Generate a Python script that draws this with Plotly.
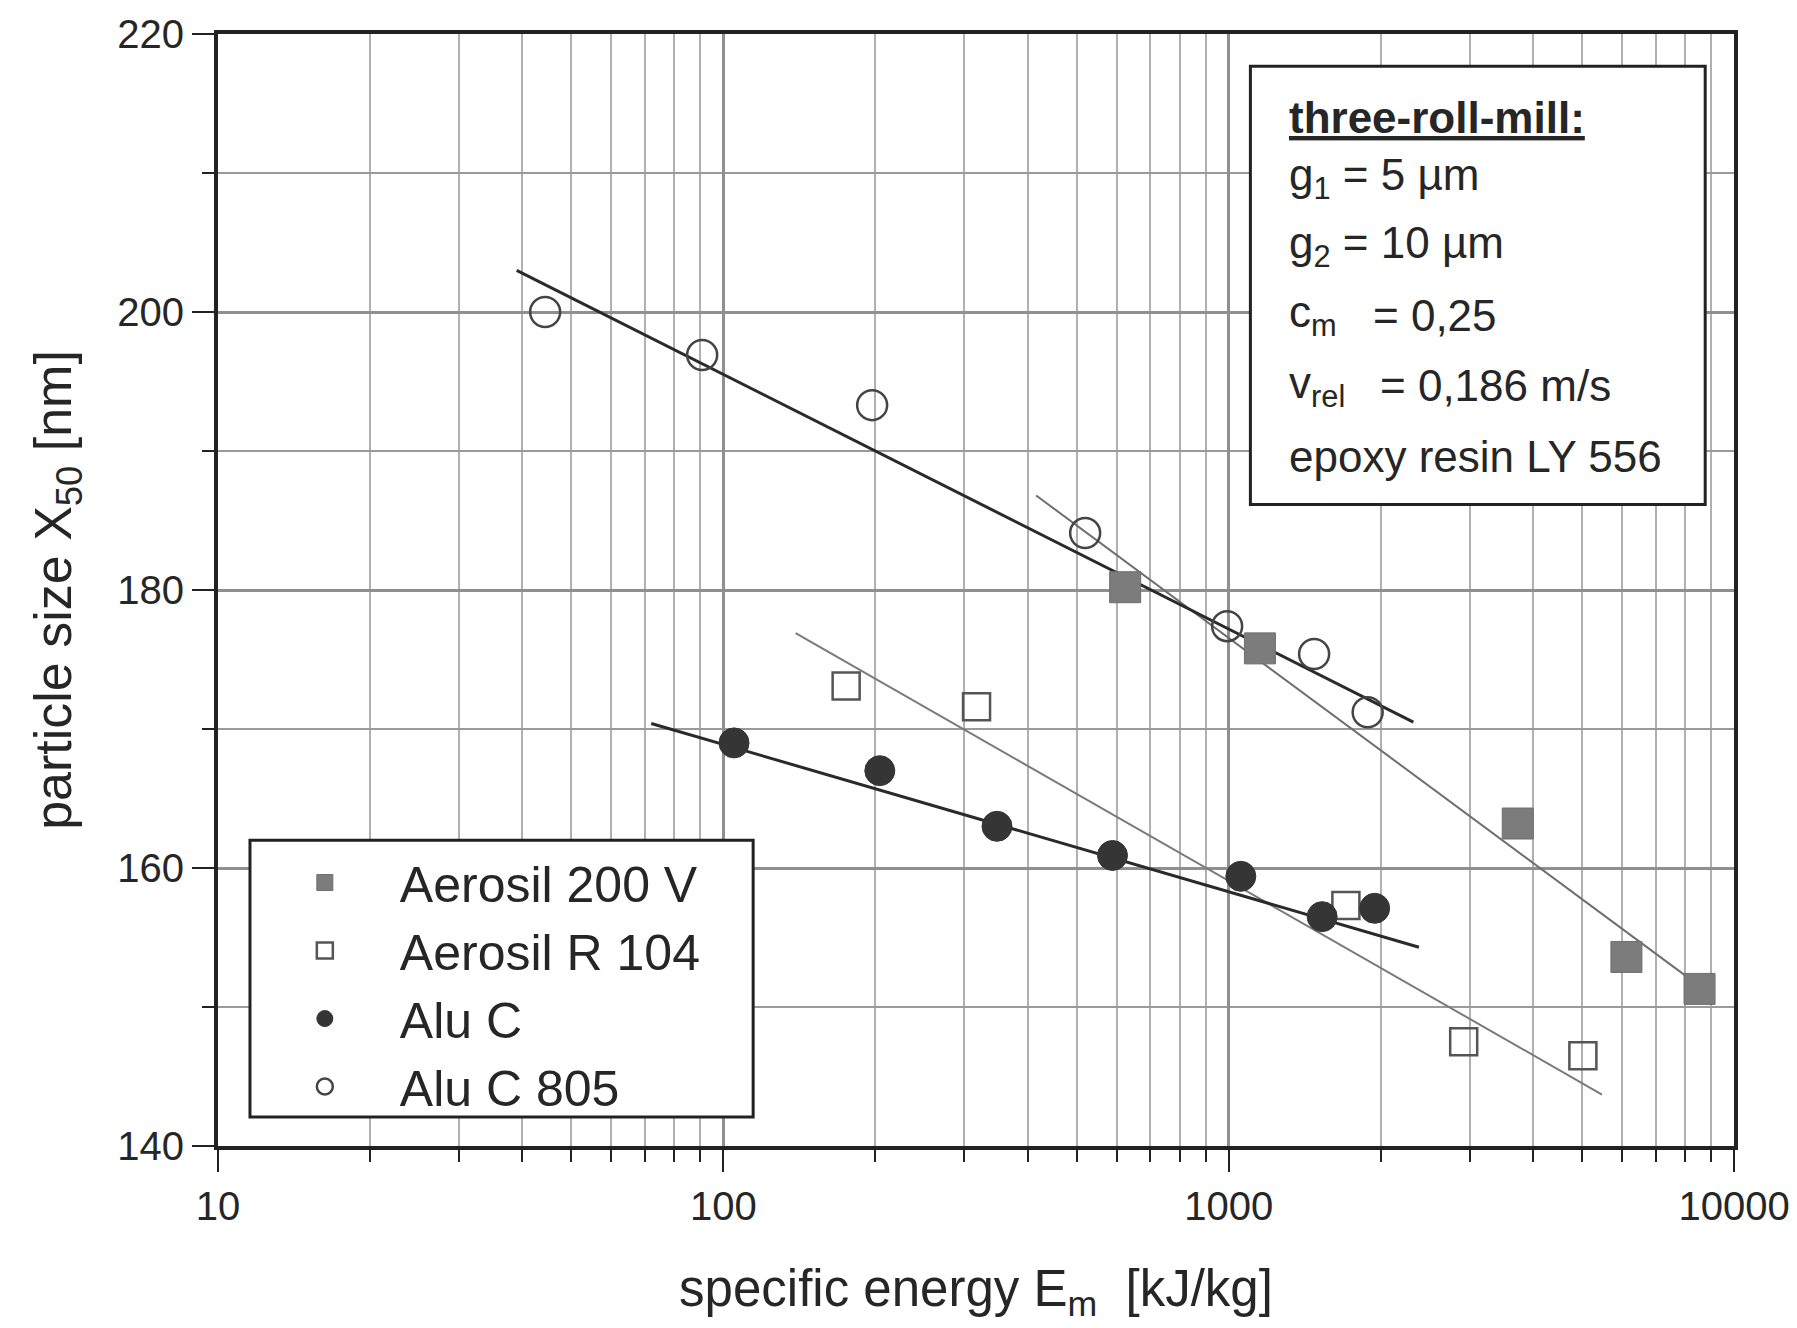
import plotly.graph_objects as go

# ---- data ----
a200v_x = [624, 1153, 3733, 6125, 8547]
a200v_y = [180.2, 175.8, 163.2, 153.6, 151.3]

r104_x = [175, 317, 1706, 2918, 5023]
r104_y = [173.1, 171.6, 157.3, 147.5, 146.5]

aluc_x = [105, 204, 348, 589, 1057, 1531, 1945]
aluc_y = [169.0, 167.0, 163.0, 160.9, 159.4, 156.5, 157.1]

c805_x = [44.4, 90.8, 197, 520, 993, 1476, 1884]
c805_y = [200.0, 196.9, 193.3, 184.1, 177.4, 175.4, 171.2]

# trend lines (end points)
fit_a200v_x = [416, 8550]
fit_a200v_y = [186.8, 151.5]
fit_r104_x = [139, 5480]
fit_r104_y = [176.9, 143.7]
fit_aluc_x = [72, 2380]
fit_aluc_y = [170.4, 154.3]
fit_c805_x = [39, 2320]
fit_c805_y = [203.0, 170.5]

x_tickvals = [10, 100, 1000, 10000]
x_ticktext = ["10", "100", "1000", "10000"]
x_minor = [m * d for d in (10, 100, 1000) for m in range(2, 10)]
y_tickvals = [140, 160, 180, 200, 220]

FONT = "Liberation Sans, Arial, sans-serif"
TXT = "#262626"

fig = go.Figure()

# trend lines
fig.add_trace(go.Scatter(x=fit_a200v_x, y=fit_a200v_y, mode="lines",
                         line=dict(color="#6e6e6e", width=2), showlegend=False, hoverinfo="skip"))
fig.add_trace(go.Scatter(x=fit_r104_x, y=fit_r104_y, mode="lines",
                         line=dict(color="#7a7a7a", width=2), showlegend=False, hoverinfo="skip"))
fig.add_trace(go.Scatter(x=fit_aluc_x, y=fit_aluc_y, mode="lines",
                         line=dict(color="#2a2a2a", width=3), showlegend=False, hoverinfo="skip"))
fig.add_trace(go.Scatter(x=fit_c805_x, y=fit_c805_y, mode="lines",
                         line=dict(color="#2a2a2a", width=3), showlegend=False, hoverinfo="skip"))

# markers
fig.add_trace(go.Scatter(x=a200v_x, y=a200v_y, mode="markers", name="Aerosil 200 V",
                         marker=dict(symbol="square", size=31, color="#7c7c7c",
                                     line=dict(color="#6f6f6f", width=1))))
fig.add_trace(go.Scatter(x=r104_x, y=r104_y, mode="markers", name="Aerosil R 104",
                         marker=dict(symbol="square-open", size=27, color="#555555",
                                     line=dict(color="#555555", width=2.5))))
fig.add_trace(go.Scatter(x=aluc_x, y=aluc_y, mode="markers", name="Alu C",
                         marker=dict(symbol="circle", size=30, color="#353535",
                                     line=dict(color="#353535", width=1))))
fig.add_trace(go.Scatter(x=c805_x, y=c805_y, mode="markers", name="Alu C 805",
                         marker=dict(symbol="circle-open", size=30, color="#444444",
                                     line=dict(color="#444444", width=2.5))))

fig.update_layout(
    width=1797, height=1328,
    margin=dict(l=218, r=63, t=34, b=182, autoexpand=False),
    paper_bgcolor="white", plot_bgcolor="white",
    font=dict(family=FONT, color=TXT),
    legend=dict(x=0.021, y=0.272, xanchor="left", yanchor="top",
                bgcolor="rgba(0,0,0,0)", borderwidth=0,
                font=dict(size=50, family=FONT, color=TXT),
                itemwidth=140, tracegroupgap=0),
    xaxis=dict(
        type="log", range=[1, 4], automargin=False,
        tickvals=x_tickvals, ticktext=x_ticktext,
        ticks="outside", ticklen=22, tickwidth=2, tickcolor="#222",
        showgrid=True, gridcolor="#8f8f8f", gridwidth=2.5,
        minor=dict(tickvals=x_minor, ticks="outside", ticklen=12, tickwidth=2,
                   tickcolor="#222", showgrid=True, gridcolor="#b0b0b0", gridwidth=2),
        showline=True, linecolor="#222", linewidth=4, mirror=True,
        tickfont=dict(size=40, family=FONT, color=TXT),
        title=dict(text="specific energy E<sub>m</sub>  [kJ/kg]", font=dict(size=51, family=FONT, color=TXT),
                   standoff=44),
        zeroline=False,
    ),
    yaxis=dict(
        range=[140, 220], automargin=False,
        tickvals=y_tickvals,
        ticks="outside", ticklen=22, tickwidth=2, tickcolor="#222",
        showgrid=True, gridcolor="#8f8f8f", gridwidth=2.5,
        minor=dict(dtick=10, ticks="outside", ticklen=12, tickwidth=2,
                   tickcolor="#222", showgrid=True, gridcolor="#9a9a9a", gridwidth=2),
        showline=True, linecolor="#222", linewidth=4, mirror=True,
        tickfont=dict(size=40, family=FONT, color=TXT),
        title=dict(text="particle size X<sub>50</sub> [nm]", font=dict(size=52, family=FONT, color=TXT),
                   standoff=30),
        zeroline=False,
    ),
)

# legend frame
fig.add_shape(type="rect", xref="paper", yref="paper", x0=0.0211, x1=0.353, y0=0.026, y1=0.275,
              line=dict(color="#222222", width=3), fillcolor="white", layer="above")

# info box
fig.add_shape(type="rect", xref="paper", yref="paper", x0=0.681, x1=0.981, y0=0.577, y1=0.971,
              line=dict(color="#222222", width=3), fillcolor="white", layer="above")

ann_font = dict(size=44, family=FONT, color=TXT)
box_lines = [
    ("<b><u>three-roll-mill:</u></b>", 0.705, 0.9245),
    ("g<sub>1</sub> = 5 µm", 0.705, 0.8705),
    ("g<sub>2</sub> = 10 µm", 0.705, 0.809),
    ("c<sub>m</sub>", 0.705, 0.747),
    ("= 0,25", 0.7606, 0.747),
    ("v<sub>rel</sub>", 0.705, 0.6835),
    ("= 0,186 m/s", 0.765, 0.6835),
    ("epoxy resin LY 556", 0.705, 0.6205),
]
for txt, xp, yp in box_lines:
    fig.add_annotation(text=txt, xref="paper", yref="paper", x=xp, y=yp,
                       xanchor="left", yanchor="middle", showarrow=False, font=ann_font)

fig.write_html("out.html")
